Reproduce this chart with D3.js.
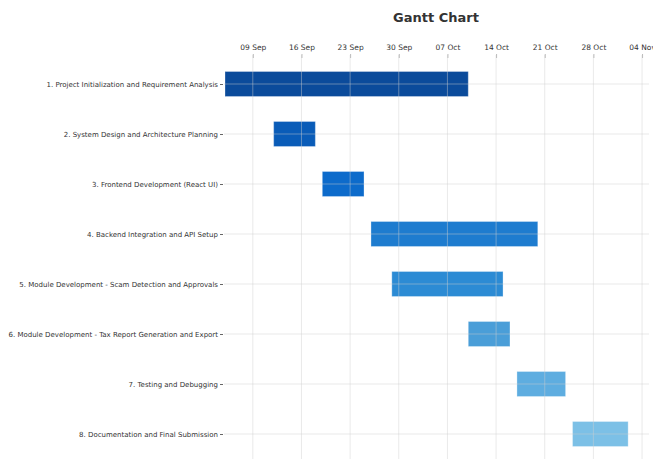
<!DOCTYPE html>
<html>
<head>
<meta charset="utf-8">
<script src="https://cdn.jsdelivr.net/npm/d3@7"></script>
<style>
  body { margin: 0; background: #fff; }
  text { font-family: "DejaVu Sans", sans-serif; }
</style>
</head>
<body>
<div id="chart"></div>
<script>
// task data
var tasks = [
  "1. Project Initialization and Requirement Analysis",
  "2. System Design and Architecture Planning",
  "3. Frontend Development (React UI)",
  "4. Backend Integration and API Setup",
  "5. Module Development - Scam Detection and Approvals",
  "6. Module Development - Tax Report Generation and Export",
  "7. Testing and Debugging",
  "8. Documentation and Final Submission"
];
var starts = ["2024-09-05", "2024-09-12", "2024-09-19", "2024-09-26", "2024-09-29", "2024-10-10", "2024-10-17", "2024-10-25"];
var ends = ["2024-10-10", "2024-09-18", "2024-09-25", "2024-10-20", "2024-10-15", "2024-10-16", "2024-10-24", "2024-11-02"];
var colors = ["#0b4b9b", "#0a5cb8", "#0d6bcb", "#1e7ccf", "#2c8bd4", "#4a9ed8", "#5eade0", "#7cc0e6"];
var tickDates = ["2024-09-09", "2024-09-16", "2024-09-23", "2024-09-30", "2024-10-07", "2024-10-14", "2024-10-21", "2024-10-28", "2024-11-04"];

var svgWidth = 653;
var svgHeight = 459;
var parse = d3.utcParse("%Y-%m-%d");

var data = tasks.map(function(t, i) {
  return { task: t, start: parse(starts[i]), end: parse(ends[i]), color: colors[i] };
});

var svg = d3.select("#chart")
  .append("svg")
  .attr("width", svgWidth)
  .attr("height", svgHeight);

var x = d3.scaleUtc()
  .domain([parse("2024-09-05"), parse("2024-11-05")])
  .range([225, 649]);

var y = d3.scalePoint()
  .domain(tasks)
  .range([84, 434]);

var barH = 25;
var ticks = tickDates.map(parse);

// title
svg.append("text")
  .attr("x", 436)
  .attr("y", 22)
  .attr("text-anchor", "middle")
  .attr("font-size", 13)
  .attr("font-weight", "bold")
  .attr("fill", "#333")
  .text("Gantt Chart");

// bars
svg.append("g").selectAll("rect")
  .data(data)
  .enter()
  .append("rect")
  .attr("x", d => x(d.start))
  .attr("y", d => y(d.task) - barH / 2)
  .attr("width", d => x(d.end) - x(d.start))
  .attr("height", barH)
  .attr("fill", d => d.color)
  .attr("stroke", "#ffffff")
  .attr("stroke-opacity", 0.3)
  .attr("stroke-width", 1);

// grid, drawn over the bars
svg.append("g").selectAll("line")
  .data(tasks)
  .enter()
  .append("line")
  .attr("x1", 224)
  .attr("x2", 649)
  .attr("y1", d => y(d))
  .attr("y2", d => y(d))
  .attr("stroke", "#cfcfcf")
  .attr("stroke-opacity", 0.45)
  .attr("stroke-width", 1);

svg.append("g").selectAll("line")
  .data(ticks)
  .enter()
  .append("line")
  .attr("x1", d => x(d))
  .attr("x2", d => x(d))
  .attr("y1", 55)
  .attr("y2", svgHeight)
  .attr("stroke", "#cfcfcf")
  .attr("stroke-opacity", 0.45)
  .attr("stroke-width", 1);

// top axis
var topAxis = d3.axisTop(x)
  .tickValues(ticks)
  .tickFormat(d3.utcFormat("%d %b"))
  .tickSize(4)
  .tickPadding(4);

var gx = svg.append("g")
  .attr("transform", "translate(0, 58)")
  .call(topAxis);
gx.select(".domain").remove();
gx.selectAll(".tick line").attr("stroke", "#bbb");
gx.selectAll(".tick text")
  .attr("font-size", 7.5)
  .attr("font-family", "DejaVu Sans, sans-serif")
  .attr("fill", "#333");

// left axis
var leftAxis = d3.axisLeft(y)
  .tickSize(3)
  .tickPadding(2);

var gy = svg.append("g")
  .attr("transform", "translate(223, 0)")
  .call(leftAxis);
gy.select(".domain").remove();
gy.selectAll(".tick line").attr("stroke", "#666");
gy.selectAll(".tick text")
  .attr("font-size", 7)
  .attr("font-family", "DejaVu Sans, sans-serif")
  .attr("fill", "#333");
</script>
</body>
</html>
